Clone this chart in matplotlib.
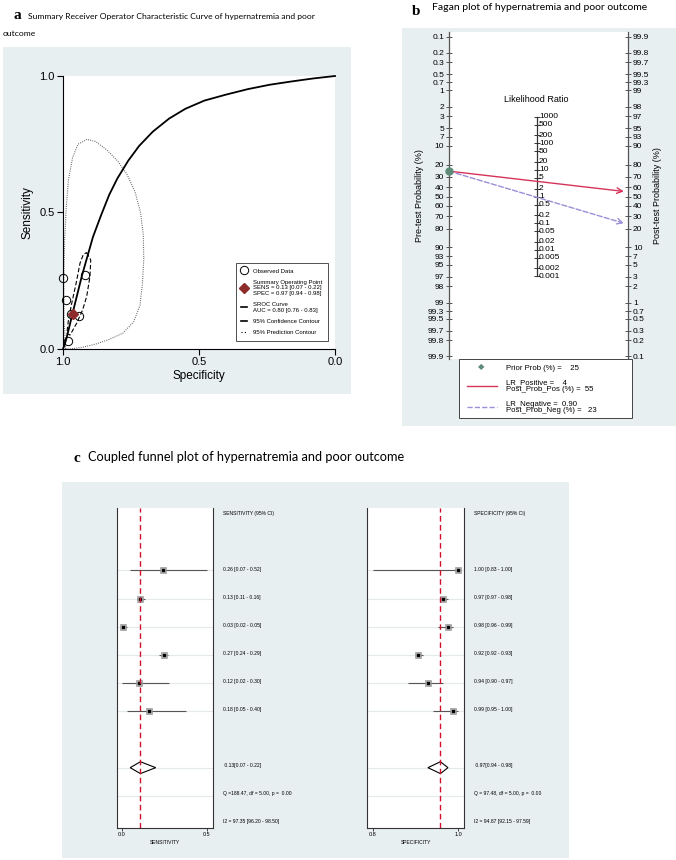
import numpy as np
import matplotlib
matplotlib.use("Agg")
import matplotlib.pyplot as plt
from matplotlib.patches import Rectangle, Polygon
from matplotlib.lines import Line2D

# ---- panel a: SROC data ----
obs_sens = [0.26, 0.13, 0.03, 0.27, 0.12, 0.18]
obs_spec = [1.00, 0.97, 0.98, 0.92, 0.94, 0.99]
sum_sens, sum_spec = 0.13, 0.965

sroc_fpr = [0.0, 0.005, 0.01, 0.02, 0.035, 0.05, 0.07, 0.09, 0.11, 0.14, 0.17, 0.20,
            0.24, 0.28, 0.33, 0.39, 0.45, 0.52, 0.60, 0.68, 0.76, 0.84, 0.92, 1.0]
sroc_sens = [0.0, 0.013, 0.029, 0.068, 0.13, 0.19, 0.27, 0.34, 0.41, 0.49, 0.565, 0.625,
             0.69, 0.744, 0.796, 0.844, 0.88, 0.91, 0.932, 0.952, 0.968, 0.98, 0.991, 1.0]

conf_fpr = [0.087, 0.102, 0.099, 0.087, 0.072, 0.05, 0.026, 0.014, 0.02, 0.032, 0.048, 0.0625, 0.075, 0.087]
conf_sens = [0.353, 0.326, 0.265, 0.192, 0.143, 0.094, 0.051, 0.057, 0.106, 0.167, 0.24, 0.314, 0.347, 0.353]

pred_fpr = [0.010, 0.004, 0.003, 0.006, 0.012, 0.02, 0.035, 0.055, 0.088, 0.12, 0.16, 0.20, 0.235,
            0.265, 0.285, 0.295, 0.297, 0.292, 0.283, 0.26, 0.22, 0.17, 0.12, 0.07, 0.03, 0.010]
pred_sens = [0.0, 0.10, 0.25, 0.40, 0.52, 0.62, 0.70, 0.75, 0.768, 0.76, 0.73, 0.69, 0.64,
             0.575, 0.50, 0.42, 0.33, 0.24, 0.16, 0.10, 0.058, 0.035, 0.018, 0.006, 0.001, 0.0]

# ---- panel b: Fagan nomogram ----
prior = 25
lr_pos, post_pos = 4, 55
lr_neg, post_neg = 0.90, 23
pre_ticks = [0.1, 0.2, 0.3, 0.5, 0.7, 1, 2, 3, 5, 7, 10, 20, 30, 40, 50, 60, 70, 80, 90,
             93, 95, 97, 98, 99, 99.3, 99.5, 99.7, 99.8, 99.9]
lr_ticks = [1000, 500, 200, 100, 50, 20, 10, 5, 2, 1, 0.5, 0.2, 0.1, 0.05, 0.02, 0.01,
            0.005, 0.002, 0.001]

# ---- panel c: coupled forest plots ----
sens = [0.26, 0.13, 0.03, 0.27, 0.12, 0.18]
sens_lo = [0.07, 0.11, 0.02, 0.24, 0.02, 0.05]
sens_hi = [0.52, 0.16, 0.05, 0.29, 0.30, 0.40]
spec = [1.00, 0.97, 0.98, 0.92, 0.94, 0.99]
spec_lo = [0.83, 0.97, 0.96, 0.92, 0.90, 0.95]
spec_hi = [1.00, 0.98, 0.99, 0.93, 0.97, 1.00]
pool_sens = (0.13, 0.07, 0.22)
pool_spec = (0.965, 0.94, 0.98)
sens_txt = ["0.26 [0.07 - 0.52]", "0.13 [0.11 - 0.16]", "0.03 [0.02 - 0.05]",
            "0.27 [0.24 - 0.29]", "0.12 [0.02 - 0.30]", "0.18 [0.05 - 0.40]"]
spec_txt = ["1.00 [0.83 - 1.00]", "0.97 [0.97 - 0.98]", "0.98 [0.96 - 0.99]",
            "0.92 [0.92 - 0.93]", "0.94 [0.90 - 0.97]", "0.99 [0.95 - 1.00]"]
sens_stats = [" 0.13[0.07 - 0.22]", "Q =188.47, df = 5.00, p =  0.00", "I2 = 97.35 [96.20 - 98.50]"]
spec_stats = [" 0.97[0.94 - 0.98]", "Q = 97.48, df = 5.00, p =  0.00", "I2 = 94.87 [92.15 - 97.59]"]

W, H = 676, 860
fig = plt.figure(figsize=(W / 100, H / 100), dpi=100)
plt.rcParams['font.family'] = ['Liberation Sans', 'DejaVu Sans']
BG = '#e8eff1'


def box(x0, y0, x1, y1):
    return [x0 / W, 1 - y1 / H, (x1 - x0) / W, (y1 - y0) / H]


def ftext(x, y, s, **kw):
    fig.text(x / W, 1 - y / H, s, **kw)


for (x0, y0, x1, y1) in [(3, 47, 351, 394), (402, 28, 676, 426), (62, 482, 569, 858)]:
    fig.add_artist(Rectangle((x0 / W, 1 - y1 / H), (x1 - x0) / W, (y1 - y0) / H,
                             transform=fig.transFigure, facecolor=BG, edgecolor='none', zorder=0))

# titles
ftext(13, 19, "a", family='Liberation Serif', weight='bold', fontsize=11, va='baseline')
ftext(28, 17, "Summary Receiver Operator Characteristic Curve of hypernatremia and poor",
      family='Lato', fontsize=6.1, va='center')
ftext(3, 33, "outcome", family='Lato', fontsize=6.1, va='center')
ftext(412, 15, "b", family='Liberation Serif', weight='bold', fontsize=11, va='baseline')
ftext(432, 8, "Fagan plot of hypernatremia and poor outcome", family='Lato', fontsize=7.5, va='center')
ftext(73, 462, "c", family='Liberation Serif', weight='bold', fontsize=11, va='baseline')
ftext(88, 457, "Coupled funnel plot of hypernatremia and poor outcome", family='Lato', fontsize=9.2,
      va='center')

# ---------------- panel a ----------------
ax = fig.add_axes(box(63, 76, 335, 349))
ax.set_xlim(1, 0)
ax.set_ylim(0, 1)
for s in ['top', 'right']:
    ax.spines[s].set_visible(False)
ax.spines['left'].set_linewidth(0.8)
ax.spines['bottom'].set_linewidth(0.8)
ax.set_xticks([1.0, 0.5, 0.0])
ax.set_yticks([1.0, 0.5, 0.0])
ax.set_xticklabels(['1.0', '0.5', '0.0'], fontsize=8)
ax.set_yticklabels(['1.0', '0.5', '0.0'], fontsize=8)
ax.tick_params(length=4, width=0.8, pad=2)
ax.set_xlabel("Specificity", fontsize=8.5, labelpad=2)
ax.set_ylabel("Sensitivity", fontsize=8.5, labelpad=4)

ax.plot(1 - np.array(pred_fpr), pred_sens, color='#555555', ls=(0, (0.8, 1.2)), lw=0.8, clip_on=False)
ax.plot(1 - np.array(conf_fpr), conf_sens, color='black', ls=(0, (4, 2)), lw=0.8, clip_on=False)
ax.plot(1 - np.array(sroc_fpr), sroc_sens, color='black', lw=1.3, clip_on=False)
ax.plot(obs_spec, obs_sens, 'o', ms=6, mfc='none', mec='black', mew=0.7, clip_on=False)
ax.plot([sum_spec], [sum_sens], 'D', ms=5, color='#8e2b2b', clip_on=False)

handles = [Line2D([], [], ls='none', marker='o', ms=6, mfc='none', mec='black', mew=0.7),
           Line2D([], [], ls='none', marker='D', ms=5, color='#8e2b2b'),
           Line2D([], [], color='black', lw=1.2),
           Line2D([], [], color='black', lw=1.2),
           Line2D([], [], color='black', ls=(0, (1, 2)), lw=0.8)]
labels = ["Observed Data",
          "Summary Operating Point\nSENS = 0.13 [0.07 - 0.22]\nSPEC = 0.97 [0.94 - 0.98]",
          "SROC Curve\nAUC = 0.80 [0.76 - 0.83]",
          "95% Confidence Contour",
          "95% Prediction Contour"]
leg = ax.legend(handles, labels, loc='lower right', bbox_to_anchor=(0.985, 0.02), fontsize=4.3,
                frameon=True, fancybox=False, edgecolor='black', handlelength=1.0,
                handletextpad=1.0, labelspacing=1.0, borderpad=0.9)
leg.get_frame().set_linewidth(0.6)

# ---------------- panel b ----------------
def logit(p):
    return np.log(p / (1 - p))


axb = fig.add_axes(box(449, 32, 628, 359))
axb.set_xlim(0, 1)
axb.set_ylim(7.03, -7.12)
for s in ['top', 'bottom']:
    axb.spines[s].set_visible(False)
for s in ['left', 'right']:
    axb.spines[s].set_color('#555555')
    axb.spines[s].set_linewidth(0.9)
axb.set_xticks([])
pre = np.array(pre_ticks) / 100
axb.set_yticks(logit(pre))
axb.set_yticklabels([f"{v:g}" for v in pre_ticks], fontsize=6)
axb.tick_params(axis='y', direction='inout', length=4, width=0.7, color='#555555', pad=1.5)
axb.set_ylabel("Pre-test Probability (%)", fontsize=6.5, labelpad=3)
axb2 = axb.twinx()
axb2.set_ylim(7.03, -7.12)
for s in ['top', 'bottom', 'left', 'right']:
    axb2.spines[s].set_visible(False)
axb2.set_yticks(-logit(pre))
axb2.set_yticklabels([f"{v:g}" for v in pre_ticks], fontsize=6)
axb2.tick_params(axis='y', direction='inout', length=4, width=0.7, color='#555555', pad=1.5)
axb2.set_ylabel("Post-test Probability (%)", fontsize=6.5, labelpad=3)

xm = 0.49
lr_y = -np.log(np.array(lr_ticks)) / 2
axb.plot([xm, xm], [lr_y[0], lr_y[-1]], color='#333333', lw=0.9)
axb.plot([xm] * len(lr_y), lr_y, ls='none', marker='_', ms=4, mew=0.7, color='#333333')
for v, y in zip(lr_ticks, lr_y):
    axb.text(xm + 0.012, y, f"{v:g}", fontsize=6, va='center', ha='left')
axb.text(xm, lr_y[0] - 0.75, "Likelihood Ratio", fontsize=6.5, ha='center', va='center')

y0 = logit(prior / 100)
axb.annotate('', xy=(1, -logit(post_pos / 100)), xytext=(0, y0),
             arrowprops=dict(arrowstyle='->', color='#d6335a', lw=1.0, shrinkA=0, shrinkB=3))
axb.annotate('', xy=(1, -logit(post_neg / 100)), xytext=(0, y0),
             arrowprops=dict(arrowstyle='->', color='#9a8fd8', lw=1.0, ls='--', shrinkA=0, shrinkB=3))
axb.plot([0], [y0], 'o', ms=5, color='#5e8a78', clip_on=False, zorder=5)

# legend b (drawn by hand, like the reference)
fig.add_artist(Rectangle((459 / W, 1 - 418 / H), (632 - 459) / W, (418 - 359) / H,
                         transform=fig.transFigure, facecolor='white', edgecolor='#444444', lw=0.7))
ftext(481, 368, "\u25C6", color='#5e8a78', fontsize=6, ha='center', va='center')
fig.add_artist(Line2D([467 / W, 497 / W], [1 - 386 / H, 1 - 386 / H], color='#d6335a', lw=1.0))
fig.add_artist(Line2D([467 / W, 497 / W], [1 - 407 / H, 1 - 407 / H], color='#9a8fd8', lw=1.0, ls='--'))
rows_b = [(368, f"Prior Prob (%) =    {prior}"),
          (383, f"LR_Positive =    {lr_pos}"),
          (390, f"Post_Prob_Pos (%) =  {post_pos}"),
          (404, f"LR_Negative =  {lr_neg:.2f}"),
          (411, f"Post_Prob_Neg (%) =   {post_neg}")]
for y, lab in rows_b:
    ftext(506, y, lab, fontsize=5.6, va='center')

# ---------------- panel c ----------------
rows = np.arange(2, 8)


def forest(rect, xlim, ticks, ticklabels, est, lo, hi, pool, xlabel, header, texts, stats, tx):
    a = fig.add_axes(box(*rect))
    a.set_xlim(*xlim)
    a.set_ylim(11.14, -0.21)
    a.spines['top'].set_visible(False)
    for s in ['left', 'right', 'bottom']:
        a.spines[s].set_linewidth(0.8)
        a.spines[s].set_color('#333333')
    a.set_yticks([])
    a.set_xticks(ticks)
    a.set_xticklabels(ticklabels, fontsize=4)
    a.tick_params(axis='x', length=2, width=0.5, pad=1)
    a.set_xlabel(xlabel, fontsize=3.6, labelpad=2)
    a.hlines(list(rows) + [9, 10], xlim[0], xlim[1], color='#e3eaec', lw=0.8, zorder=0)
    a.hlines(rows, lo, hi, color='#555555', lw=0.8, zorder=2)
    a.plot(est, rows, 's', ms=4.2, mfc='#a9a9a9', mec='#8f8f8f', mew=0.4, zorder=3)
    a.plot(est, rows, 's', ms=1.4, color='black', zorder=4)
    a.axvline(pool[0], color='#d0102c', ls=(0, (4, 2.5)), lw=1.0, zorder=5)
    a.add_patch(Polygon([(pool[1], 9), (pool[0], 8.79), (pool[2], 9), (pool[0], 9.21)], closed=True,
                        facecolor='white', edgecolor='black', lw=0.8, zorder=4))
    ftext(tx, 514, header, fontsize=3.6, va='center')
    for r, s in zip(rows, texts):
        ftext(tx, 514 + 28 * r, s, fontsize=3.6, va='center')
    for r, s in zip([9, 10, 11], stats):
        ftext(tx, 514 + 28 * r, s, fontsize=3.6, va='center')


forest((117, 508, 213, 828), (-0.0076, 0.557), [0.02, 0.52], ['0.0', '0.5'], sens, sens_lo, sens_hi,
       pool_sens, "SENSITIVITY", "SENSITIVITY (95% CI)", sens_txt, sens_stats, 222.7)
forest((366.7, 508, 464.3, 828), (0.818, 1.0126), [0.83, 1.0], ['0.8', '1.0'], spec, spec_lo, spec_hi,
       pool_spec, "SPECIFICITY", "SPECIFICITY (95% CI)", spec_txt, spec_stats, 474)

fig.savefig("out.png", dpi=100)
